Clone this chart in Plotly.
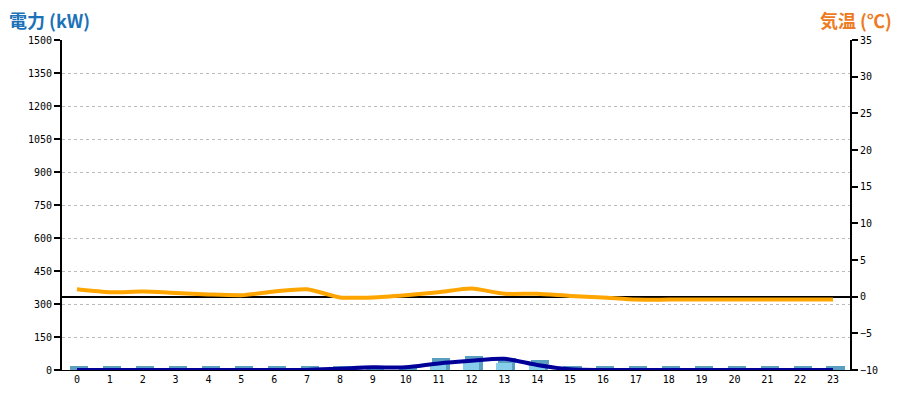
import plotly.graph_objects as go

hours = list(range(24))
hour_labels = [str(h) for h in hours]

# measured power (bars, kW)
power_bars = [0, 0, 0, 0, 0, 0, 0, 0, 0, 0, 0, 33, 42, 33, 27, 0, 0, 0, 0, 0, 0, 0, 0, 0]
# power line (kW)
power_line = [0, 0, 0, 0, 0, 0, 0, 0, 6, 12, 12, 30, 42, 51, 23, 3, 0, 0, 0, 0, 0, 0, 0, 0]
# temperature (°C)
temperature = [1.0, 0.6, 0.7, 0.5, 0.3, 0.2, 0.7, 1.0, -0.1, -0.1, 0.2, 0.6, 1.1, 0.4, 0.4, 0.1,
               -0.1, -0.4, -0.4, -0.4, -0.4, -0.4, -0.4, -0.4]

left_ticks = list(range(0, 1501, 150))
right_ticks = list(range(-10, 36, 5))

CAP_KW = 20
tick_font = dict(family="DejaVu Sans Mono", size=10, color="#000000")

fig = go.Figure()

# side face of 3D bar
fig.add_trace(go.Bar(x=hours, y=power_bars, offset=0.22, width=0.12,
                     marker=dict(color="#5A9FC0", line=dict(width=0)), showlegend=False))
# front face
fig.add_trace(go.Bar(x=hours, y=power_bars, offset=-0.26, width=0.49,
                     marker=dict(color="#87CEEB", line=dict(width=0)), showlegend=False))
# top cap
fig.add_trace(go.Bar(x=hours, y=[CAP_KW] * len(hours), base=power_bars, offset=-0.2, width=0.55,
                     marker=dict(color="#5A9FC0", line=dict(width=0)), showlegend=False))

fig.add_trace(go.Scatter(x=hours, y=temperature, yaxis="y2", mode="lines",
                         line=dict(color="#FFA500", width=4, shape="spline", smoothing=0.6),
                         showlegend=False))
fig.add_trace(go.Scatter(x=hours, y=power_line, mode="lines",
                         line=dict(color="#000099", width=4, shape="spline", smoothing=0.8),
                         showlegend=False))

fig.update_layout(
    width=892, height=392,
    margin=dict(l=54, r=50, t=32, b=30, autoexpand=False),
    paper_bgcolor="white", plot_bgcolor="white",
    barmode="overlay", bargap=0,
    xaxis=dict(range=[-0.456, 23.517], tickmode="array", tickvals=hours, ticktext=hour_labels,
               showgrid=False, zeroline=False, showline=True, linecolor="#000000", linewidth=1,
               ticks="", tickfont=tick_font, fixedrange=True),
    yaxis=dict(range=[0, 1500], tickmode="array", tickvals=left_ticks,
               showgrid=True, gridcolor="#BBBBBB", griddash="dot", gridwidth=1,
               zeroline=False, showline=True, linecolor="#000000", linewidth=2,
               ticks="outside", ticklen=6, tickwidth=2, tickcolor="#000000",
               tickfont=tick_font),
    yaxis2=dict(range=[-10, 35], overlaying="y", side="right", tickmode="array",
                tickvals=right_ticks, showgrid=False,
                zeroline=True, zerolinecolor="#000000", zerolinewidth=2,
                showline=True, linecolor="#000000", linewidth=2,
                ticks="outside", ticklen=6, tickwidth=2, tickcolor="#000000",
                tickfont=tick_font),
    annotations=[
        dict(text="<b>電力 (kW)</b>", xref="paper", yref="paper", x=0, y=1, xshift=-55, yshift=35,
             xanchor="left", yanchor="top", showarrow=False,
             font=dict(family="Noto Sans CJK JP", size=18, color="#1B72B8")),
        dict(text="<b>気温 (℃)</b>", xref="paper", yref="paper", x=1, y=1, xshift=44, yshift=35,
             xanchor="right", yanchor="top", showarrow=False,
             font=dict(family="Noto Sans CJK JP", size=18, color="#EE7A22")),
    ],
)

fig.write_html("out.html")
